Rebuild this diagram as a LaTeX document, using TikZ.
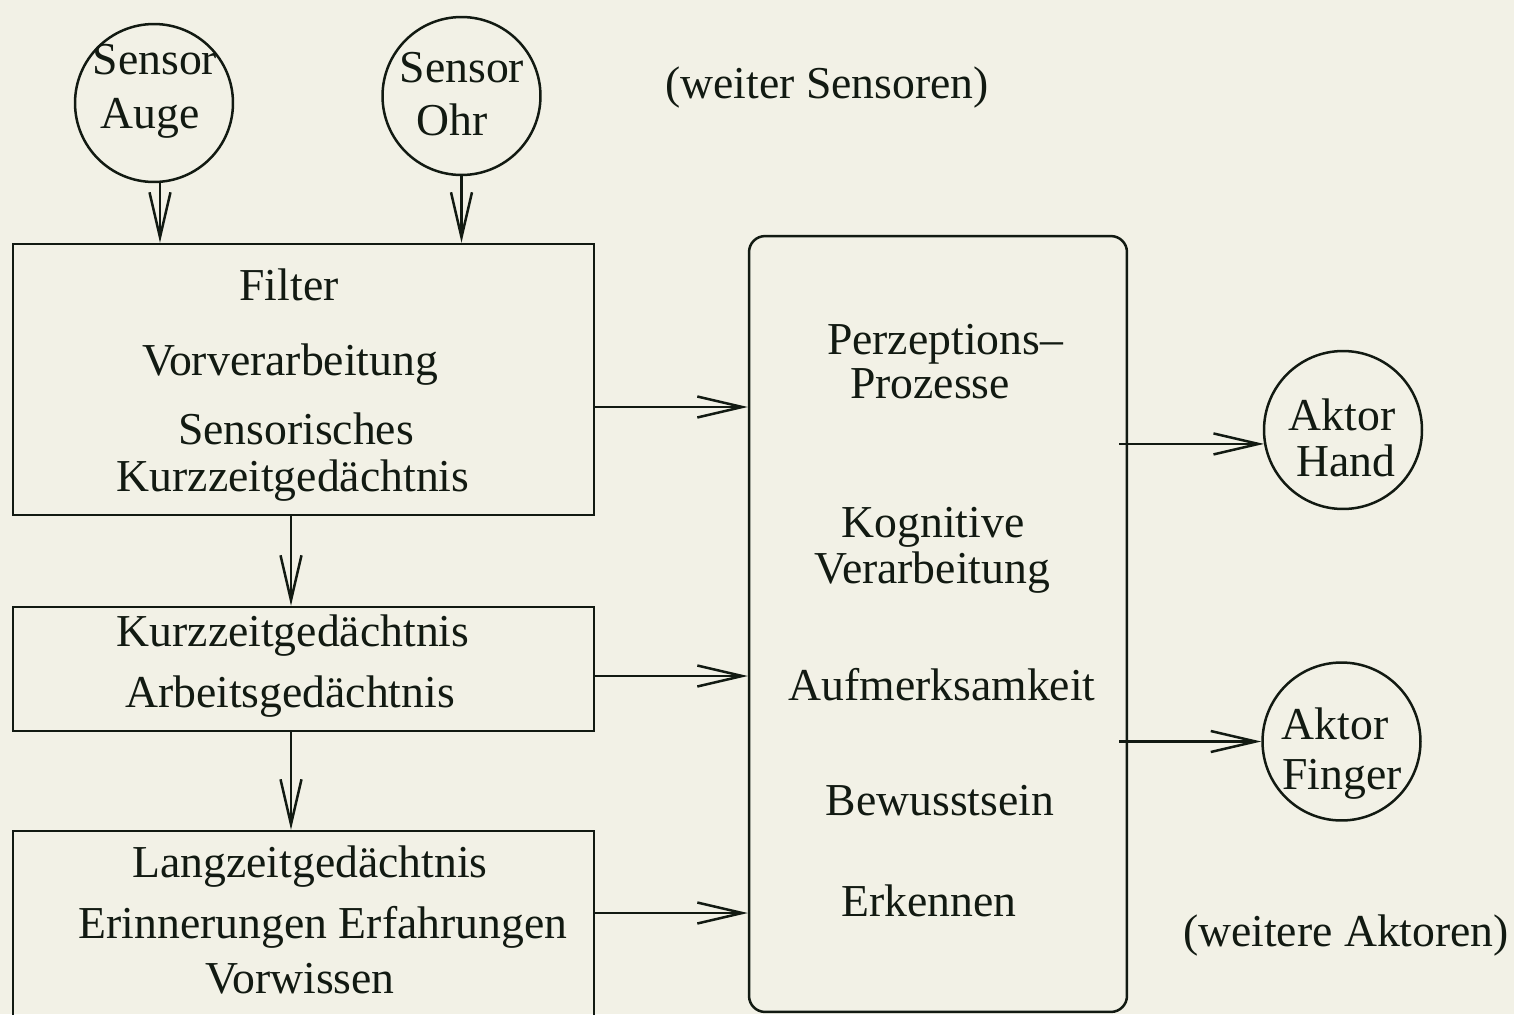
\documentclass[tikz,border=0pt]{standalone}
\usepackage{fontspec}
\setmainfont{Liberation Serif}
\usetikzlibrary{arrows.meta,positioning}
\definecolor{paper}{HTML}{F2F1E6}
\definecolor{ink}{HTML}{121A12}

\begin{document}
\begin{tikzpicture}[x=0.02cm, y=-0.02cm,
      every node/.style={font=\fontsize{26}{28}\selectfont, text=ink},
      unit/.style={draw=ink, line width=0.05cm, inner sep=0pt},
      organ/.style={circle, draw=ink, line width=0.05cm, minimum size=3.16cm, inner sep=0pt},
      txt/.style={anchor=base, inner sep=0pt},
      arr/.style={draw=ink, line width=0.05cm, -{Straight Barb[length=0.9cm, width=0.42cm]}}
    ]
      \useasboundingbox (0,0) rectangle (1514,1014);
      \fill[paper] (0,0) rectangle (1514,1014);
      \clip (0,0) rectangle (1514,1014);

      % Sensoren
      \node[organ] (auge) at (154,103) {};
      \node[txt] (a1) at (155,74) {Sensor};
      \node[txt] (a2) at (150,128) {Auge};
      \node[organ] (ohr) at (461.5,96) {};
      \node[txt] (o1) at (462,82) {Sensor};
      \node[txt] (o2) at (452,135) {Ohr};
      \node[txt] (more) at (827,98) {(weiter Sensoren)};

      % Speicher links
      \node[unit, minimum width=11.62cm, minimum height=5.42cm] (filter) at (303.5,379.5) {};
      \node[txt] (f1) at (289,300) {Filter};
      \node[txt] (f2) at (290,375) {Vorverarbeitung};
      \node[txt] (f3) at (296,444) {Sensorisches};
      \node[txt] (f4) at (293,491) {Kurzzeitgedächtnis};

      \node[unit, minimum width=11.62cm, minimum height=2.48cm] (kzg) at (303.5,669) {};
      \node[txt] (k1) at (293,646) {Kurzzeitgedächtnis};
      \node[txt] (k2) at (290,707) {Arbeitsgedächtnis};

      \node[unit, minimum width=11.62cm, minimum height=4.18cm] (lzg) at (303.5,935.5) {};
      \node[txt] (l1) at (310,877) {Langzeitgedächtnis};
      \node[txt] (l2) at (323,938) {Erinnerungen Erfahrungen};
      \node[txt] (l3) at (300,993) {Vorwissen};

      % Verarbeitung
      \node[unit, rounded corners=0.32cm, minimum width=7.56cm, minimum height=15.52cm] (proc) at (938,624) {};
      \node[txt] (p1) at (945,354) {Perzeptions–};
      \node[txt] (p2) at (930,398) {Prozesse};
      \node[txt] (p3) at (933,537) {Kognitive};
      \node[txt] (p4) at (932,583) {Verarbeitung};
      \node[txt] (p5) at (942,700) {Aufmerksamkeit};
      \node[txt] (p6) at (940,815) {Bewusstsein};
      \node[txt] (p7) at (929,916) {Erkennen};

      % Aktoren
      \node[organ] (hand) at (1343,430) {};
      \node[txt] (h1) at (1342,430) {Aktor};
      \node[txt] (h2) at (1346,476) {Hand};
      \node[organ] (finger) at (1341.5,741.5) {};
      \node[txt] (g1) at (1335,739) {Aktor};
      \node[txt] (g2) at (1342,789) {Finger};
      \node[txt] (less) at (1346,946) {(weitere Aktoren)};

      \draw[arr] ([xshift=0.12cm]auge.south) -- ([xshift=0.12cm]auge.south |- filter.north);
      \draw[arr] (ohr.south) -- (ohr.south |- filter.north);
      \draw[arr] ([xshift=-0.25cm]filter.south) -- ([xshift=-0.25cm]kzg.north);
      \draw[arr] ([xshift=-0.25cm]kzg.south) -- ([xshift=-0.25cm]lzg.north);
      \draw[arr] ([yshift=-0.55cm]filter.east) -- ([yshift=-0.55cm]filter.east -| proc.west);
      \draw[arr] ([yshift=-0.14cm]kzg.east) -- ([yshift=-0.14cm]kzg.east -| proc.west);
      \draw[arr] ([yshift=0.45cm]lzg.east) -- ([yshift=0.45cm]lzg.east -| proc.west);
      \draw[arr] ([xshift=-0.18cm]proc.east |- hand.190) -- (hand.190);
      \draw[arr] ([xshift=-0.18cm]proc.east |- finger.west) -- (finger.west);
    \end{tikzpicture}
\end{document}
